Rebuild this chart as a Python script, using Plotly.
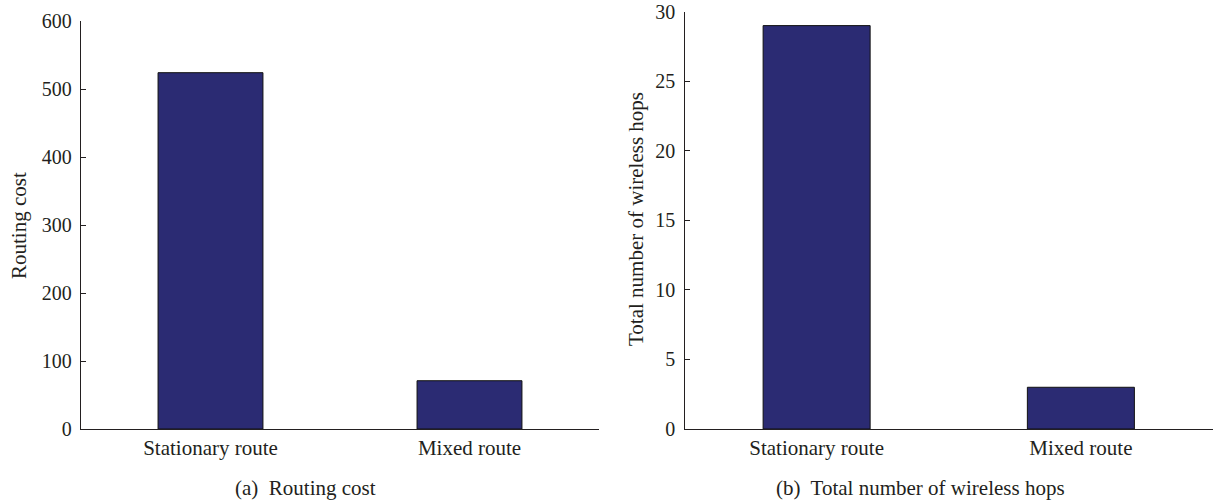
import plotly.graph_objects as go

# Data
routes = ["Stationary route", "Mixed route"]
routing_cost = [524, 71]
wireless_hops = [29, 3]

cost_ticks = [0, 100, 200, 300, 400, 500, 600]
hop_ticks = [0, 5, 10, 15, 20, 25, 30]

W, H = 1213, 501
BAR_COLOR = "#2b2b73"
INK = "#231f20"
FONT = "Liberation Serif"
FS_TICK = 20
FS_TEXT = 21


def px_x(p):
    return p / W


def px_y(p):
    return 1 - p / H


fig = go.Figure()

fig.add_trace(go.Bar(
    x=routes, y=routing_cost, width=0.405,
    marker=dict(color=BAR_COLOR, line=dict(color="#111111", width=1)),
    xaxis="x", yaxis="y", showlegend=False,
))
fig.add_trace(go.Bar(
    x=routes, y=wireless_hops, width=0.405,
    marker=dict(color=BAR_COLOR, line=dict(color="#111111", width=1)),
    xaxis="x2", yaxis="y2", showlegend=False,
))

xcommon = dict(
    type="category", range=[-0.5, 1.5], showgrid=False, zeroline=False,
    showline=True, linecolor=INK, linewidth=1.3, ticks="",
    tickfont=dict(family=FONT, size=FS_TEXT, color=INK), automargin=False,
)
ycommon = dict(
    showgrid=False, zeroline=False, showline=True, linecolor=INK, linewidth=1.3,
    ticks="inside", ticklen=5, tickwidth=1.3, tickcolor=INK,
    ticklabelstandoff=4,
    tickfont=dict(family=FONT, size=FS_TICK, color=INK), automargin=False,
)

fig.update_layout(
    width=W, height=H,
    margin=dict(l=0, r=0, t=0, b=0),
    paper_bgcolor="white", plot_bgcolor="white",
    xaxis=dict(domain=[px_x(81), px_x(599)], anchor="y", **xcommon),
    yaxis=dict(domain=[px_y(429), px_y(21)], anchor="x", range=[0, 600],
               tickvals=cost_ticks, **ycommon),
    xaxis2=dict(domain=[px_x(684.5), 1.0], anchor="y2", **xcommon),
    yaxis2=dict(domain=[px_y(429), px_y(11.7)], anchor="x2", range=[0, 30],
                tickvals=hop_ticks, **ycommon),
)

annots = [
    dict(text="Routing cost", x=px_x(19), y=px_y(226), textangle=-90),
    dict(text="Total number of wireless hops", x=px_x(636), y=px_y(219), textangle=-90),
    dict(text="(a)  Routing cost", x=px_x(305), y=px_y(488)),
    dict(text="(b)  Total number of wireless hops", x=px_x(920), y=px_y(488)),
]
for a in annots:
    fig.add_annotation(
        xref="paper", yref="paper", showarrow=False,
        xanchor="center", yanchor="middle",
        font=dict(family=FONT, size=FS_TEXT, color=INK), **a,
    )

fig.write_html("out.html")
